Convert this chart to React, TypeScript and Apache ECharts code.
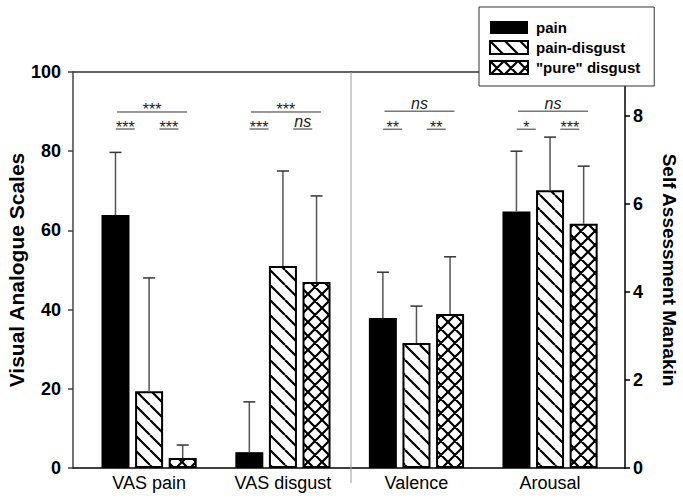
import React, { useEffect, useRef } from 'react';
import * as echarts from 'echarts';

// ---------- data ----------
const CATEGORIES = ['VAS pain', 'VAS disgust', 'Valence', 'Arousal'];
const SERIES_NAMES = ['pain', 'pain-disgust', '"pure" disgust'];
const PAIN_MEAN = [63.9, 4.0, 3.41, 5.83];
const PAIN_SD = [15.8, 12.7, 1.04, 1.37];
const PD_MEAN = [19.4, 51.0, 2.84, 6.31];
const PD_SD = [28.6, 24.0, 0.84, 1.21];
const PURE_MEAN = [2.5, 47.0, 3.5, 5.55];
const PURE_SD = [3.3, 21.7, 1.3, 1.31];
// significance: pain vs pain-disgust, pain-disgust vs pure, pain vs pure
const SIG_12 = ['***', '***', '**', '*'];
const SIG_23 = ['***', 'ns', '**', '***'];
const SIG_13 = ['***', '***', 'ns', 'ns'];
const VAS_TICKS = [0, 20, 40, 60, 80, 100];
const SAM_TICKS = [0, 2, 4, 6, 8];

const MEANS = [PAIN_MEAN, PD_MEAN, PURE_MEAN];
const SDS = [PAIN_SD, PD_SD, PURE_SD];

// ---------- style ----------
const FONT = 'Liberation Sans, Arial, sans-serif';
const BAR_W = 28;
const BAR_GAP = 0.2;
const STEP = BAR_W * (1 + BAR_GAP);
const GRID_CATS = [[0, 1], [2, 3]];
const X_RANGE = [[-0.5686, 1.5087], [1.51, 3.561]];
const SIG_LEVELS = [{ short: 85.6, long: 89.9 }, { short: 7.7, long: 8.11 }];

function makeHatch(cross: boolean, s: number) {
  const c = document.createElement('canvas');
  c.width = s;
  c.height = s;
  const ctx = c.getContext('2d')!;
  ctx.fillStyle = '#fff';
  ctx.fillRect(0, 0, s, s);
  ctx.strokeStyle = '#000';
  ctx.lineWidth = 2.2;
  ctx.beginPath();
  for (let k = -1; k <= 1; k++) {
    ctx.moveTo(k * s, 0);
    ctx.lineTo(k * s + s, s);
    if (cross) {
      ctx.moveTo(k * s, s);
      ctx.lineTo(k * s + s, 0);
    }
  }
  ctx.stroke();
  return { image: c, repeat: 'repeat', imageWidth: s, imageHeight: s } as any;
}

function buildOption() {
  const fills: any[] = ['#000', makeHatch(false, 15), makeHatch(true, 14)];

  const xAxis: any[] = [];
  GRID_CATS.forEach((cats, g) => {
    xAxis.push({
      gridIndex: g,
      type: 'value',
      min: X_RANGE[g][0],
      max: X_RANGE[g][1],
      position: 'bottom',
      axisLine: { show: true, onZero: false, lineStyle: { color: '#000', width: 1.5 } },
      axisTick: { show: false },
      splitLine: { show: false },
      axisLabel: {
        customValues: cats,
        formatter: (v: number) => CATEGORIES[Math.round(v)],
        fontFamily: FONT,
        fontSize: 18,
        color: '#000',
        margin: 6,
      },
    });
    xAxis.push({
      gridIndex: g,
      type: 'value',
      min: X_RANGE[g][0],
      max: X_RANGE[g][1],
      position: 'top',
      axisLine: { show: true, onZero: false, lineStyle: { color: '#333', width: 1.5 } },
      axisTick: { show: false },
      splitLine: { show: false },
      axisLabel: { show: false },
    });
  });

  const yAxis: any[] = [
    {
      gridIndex: 0,
      type: 'value',
      min: 0,
      max: 100,
      interval: 20,
      position: 'left',
      name: 'Visual Analogue Scales',
      nameLocation: 'middle',
      nameGap: 41,
      nameTextStyle: { fontFamily: FONT, fontWeight: 'bold', fontSize: 21, color: '#000' },
      axisLine: { show: true, onZero: false, lineStyle: { color: '#444', width: 1.5 } },
      axisTick: { show: true, length: 5, customValues: VAS_TICKS, lineStyle: { color: '#444', width: 1.5 } },
      axisLabel: { customValues: VAS_TICKS, fontFamily: FONT, fontWeight: 'bold', fontSize: 18, color: '#000', margin: 12 },
      splitLine: { show: false },
    },
    {
      gridIndex: 1,
      type: 'value',
      min: 0,
      max: 9,
      interval: 1,
      position: 'right',
      name: 'Self Assessment Manakin',
      nameLocation: 'middle',
      nameRotate: -90,
      nameGap: 35,
      nameTextStyle: { fontFamily: FONT, fontWeight: 'bold', fontSize: 19, color: '#000' },
      axisLine: { show: true, onZero: false, lineStyle: { color: '#000', width: 1.5 } },
      axisTick: { show: true, length: 5, customValues: SAM_TICKS, lineStyle: { color: '#000', width: 1.5 } },
      axisLabel: { customValues: SAM_TICKS, fontFamily: FONT, fontWeight: 'bold', fontSize: 18, color: '#000', margin: 8 },
      splitLine: { show: false },
    },
  ];

  const series: any[] = [];
  GRID_CATS.forEach((cats, g) => {
    SERIES_NAMES.forEach((name, s) => {
      series.push({
        type: 'bar',
        name,
        xAxisIndex: g * 2,
        yAxisIndex: g,
        barWidth: BAR_W,
        barGap: BAR_GAP * 100 + '%',
        data: cats.map((c) => [c, MEANS[s][c]]),
        itemStyle: {
          color: fills[s],
          borderColor: '#000',
          borderWidth: s === 0 ? 0 : 2,
        },
        emphasis: { disabled: true },
        z: 2,
      });
    });
    // error bars
    const errData: number[][] = [];
    SERIES_NAMES.forEach((_, s) => {
      cats.forEach((c) => errData.push([c, MEANS[s][c], SDS[s][c], s]));
    });
    series.push({
      type: 'custom',
      xAxisIndex: g * 2,
      yAxisIndex: g,
      clip: false,
      z: 3,
      encode: { x: 0, y: 1 },
      data: errData,
      renderItem: (params: any, api: any) => {
        const x = api.value(0);
        const m = api.value(1);
        const sd = api.value(2);
        const s = api.value(3);
        const p = api.coord([x, m]);
        const t = api.coord([x, m + sd]);
        const cx = p[0] + (s - 1) * STEP;
        return {
          type: 'group',
          children: [
            { type: 'line', shape: { x1: cx, y1: p[1], x2: cx, y2: t[1] }, style: { stroke: '#555', lineWidth: 1.5 } },
            { type: 'line', shape: { x1: cx - 6, y1: t[1], x2: cx + 6, y2: t[1] }, style: { stroke: '#333', lineWidth: 1.5 } },
          ],
        };
      },
    });
    // significance annotations
    series.push({
      type: 'custom',
      xAxisIndex: g * 2,
      yAxisIndex: g,
      clip: false,
      z: 3,
      encode: { x: 0 },
      data: cats.map((c) => [c]),
      renderItem: (params: any, api: any) => {
        const c = api.value(0);
        const lv = SIG_LEVELS[g];
        const lo = api.coord([c, lv.short]);
        const hi = api.coord([c, lv.long]);
        const cx = lo[0];
        const segs = [
          { x: cx - STEP / 2 - 7, w: 19, y: lo[1], t: SIG_12[c] },
          { x: cx + STEP / 2 + 3, w: 19, y: lo[1], t: SIG_23[c] },
          { x: cx + 3, w: 70, y: hi[1], t: SIG_13[c] },
        ];
        const children: any[] = [];
        segs.forEach((sg) => {
          children.push({
            type: 'line',
            shape: { x1: sg.x - sg.w / 2, y1: sg.y, x2: sg.x + sg.w / 2, y2: sg.y },
            style: { stroke: '#333', lineWidth: 1 },
          });
          const isNs = sg.t === 'ns';
          children.push({
            type: 'text',
            x: sg.x,
            y: sg.y - (isNs ? 8 : 2),
            style: {
              text: sg.t,
              font: (isNs ? 'italic ' : '') + '16px ' + FONT,
              fill: '#222',
              align: 'center',
              verticalAlign: 'middle',
            },
          });
        });
        return { type: 'group', children };
      },
    });
  });
  // divider between VAS and SAM panels
  series.push({
    type: 'custom',
    xAxisIndex: 0,
    yAxisIndex: 0,
    clip: false,
    z: 1,
    data: [[0]],
    renderItem: (params: any) => {
      const cs = params.coordSys;
      const x = cs.x + cs.width;
      return {
        type: 'line',
        shape: { x1: x, y1: cs.y, x2: x, y2: cs.y + cs.height + 15 },
        style: { stroke: '#aaa', lineWidth: 1.2 },
      };
    },
  });

  return {
    animation: false,
    backgroundColor: '#fff',
    grid: [
      { left: 73, top: 72, bottom: 31, width: 278 },
      { left: 351, top: 72, bottom: 31, width: 274 },
    ],
    legend: {
      data: SERIES_NAMES,
      orient: 'vertical',
      left: 479,
      top: 7,
      icon: 'rect',
      itemWidth: 38,
      itemHeight: 13,
      itemGap: 5,
      padding: [13, 14, 11, 10],
      backgroundColor: '#fff',
      borderColor: '#333',
      borderWidth: 1,
      borderRadius: 0,
      selectedMode: false,
      textStyle: { fontFamily: FONT, fontWeight: 'bold', fontSize: 15, color: '#000', padding: [0, 0, 0, 3] },
      z: 10,
    },
    xAxis,
    yAxis,
    series,
  };
}

export default function App() {
  const ref = useRef<HTMLDivElement>(null);
  useEffect(() => {
    const chart = echarts.init(ref.current!, null, { renderer: 'svg' });
    chart.setOption(buildOption() as any);
    return () => chart.dispose();
  }, []);
  return (
    <div
      ref={ref}
      style={{ position: 'fixed', left: 0, top: 0, width: 683, height: 499, background: '#fff' }}
    />
  );
}
